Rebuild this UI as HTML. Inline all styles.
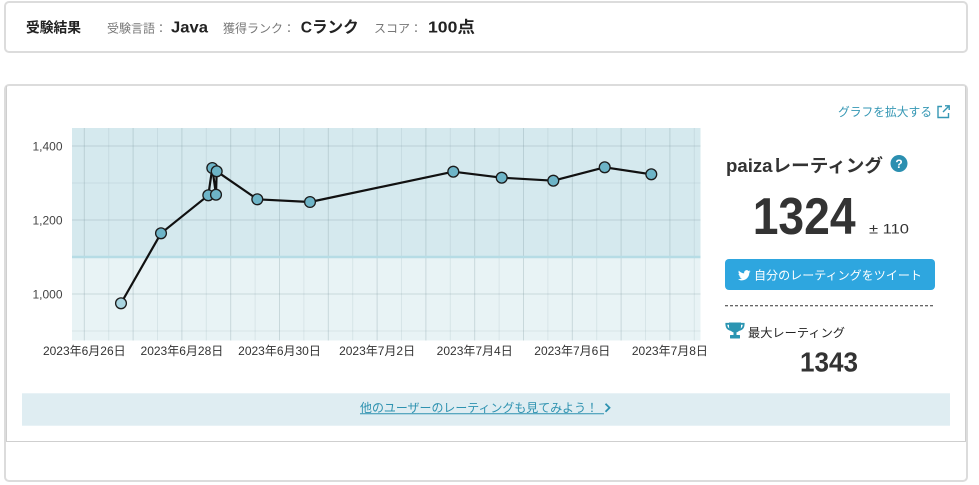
<!DOCTYPE html>
<html><head><meta charset="utf-8">
<style>
html,body{margin:0;padding:0;background:#fff;width:979px;height:485px;overflow:hidden;}
svg{display:block;}
text{font-family:"Liberation Sans","Noto Sans CJK JP",sans-serif;}
</style></head>
<body>
<svg width="979" height="485" viewBox="0 0 979 485" xmlns="http://www.w3.org/2000/svg">
  <!-- top card -->
  <rect x="5" y="2" width="962" height="50" rx="4" fill="#fff" stroke="#dcdcdc" stroke-width="2"/>
  <text x="26" y="32.5" font-size="14" font-weight="bold" fill="#222" textLength="55" lengthAdjust="spacingAndGlyphs">受験結果</text>
  <text x="107" y="32.5" font-size="12" fill="#777">受験言語：</text>
  <text x="171" y="32.5" font-size="16" font-weight="bold" fill="#222" textLength="37" lengthAdjust="spacingAndGlyphs">Java</text>
  <text x="223" y="32.5" font-size="12" fill="#777">獲得ランク：</text>
  <text x="300.7" y="32.5" font-size="16" font-weight="bold" fill="#222" textLength="58" lengthAdjust="spacingAndGlyphs">Cランク</text>
  <text x="374" y="32.5" font-size="12" fill="#777">スコア：</text>
  <text x="428" y="32.5" font-size="16" font-weight="bold" fill="#222" textLength="47" lengthAdjust="spacingAndGlyphs">100点</text>

  <!-- second card -->
  <rect x="5" y="85" width="962" height="396" rx="4" fill="#fff" stroke="#dcdcdc" stroke-width="2"/>
  <path d="M6.5,86 V441.5 H965.5 V86" fill="none" stroke="#cfcfcf" stroke-width="1"/>

  <!-- plot bands -->
  <rect x="72" y="128" width="628.5" height="129" fill="#d5e9ee"/>
  <rect x="72" y="257" width="628.5" height="83.5" fill="#e8f3f5"/>

  <!-- minor vertical grid -->
  <g stroke="rgba(100,130,140,0.12)" stroke-width="1">
    <line x1="108.7" y1="128" x2="108.7" y2="340.5"/>
    <line x1="157.5" y1="128" x2="157.5" y2="340.5"/>
    <line x1="206.3" y1="128" x2="206.3" y2="340.5"/>
    <line x1="255.1" y1="128" x2="255.1" y2="340.5"/>
    <line x1="303.9" y1="128" x2="303.9" y2="340.5"/>
    <line x1="352.7" y1="128" x2="352.7" y2="340.5"/>
    <line x1="401.5" y1="128" x2="401.5" y2="340.5"/>
    <line x1="450.3" y1="128" x2="450.3" y2="340.5"/>
    <line x1="499.1" y1="128" x2="499.1" y2="340.5"/>
    <line x1="547.9" y1="128" x2="547.9" y2="340.5"/>
    <line x1="596.7" y1="128" x2="596.7" y2="340.5"/>
    <line x1="645.5" y1="128" x2="645.5" y2="340.5"/>
    <line x1="694.3" y1="128" x2="694.3" y2="340.5"/>
    <line x1="72" y1="183" x2="700.5" y2="183"/>
    <line x1="72" y1="331" x2="700.5" y2="331"/>
  </g>
  <!-- major grid -->
  <g stroke="rgba(100,130,140,0.24)" stroke-width="1">
    <line x1="84.3" y1="128" x2="84.3" y2="340.5"/>
    <line x1="133.1" y1="128" x2="133.1" y2="340.5"/>
    <line x1="181.9" y1="128" x2="181.9" y2="340.5"/>
    <line x1="230.7" y1="128" x2="230.7" y2="340.5"/>
    <line x1="279.5" y1="128" x2="279.5" y2="340.5"/>
    <line x1="328.3" y1="128" x2="328.3" y2="340.5"/>
    <line x1="377.1" y1="128" x2="377.1" y2="340.5"/>
    <line x1="425.9" y1="128" x2="425.9" y2="340.5"/>
    <line x1="474.7" y1="128" x2="474.7" y2="340.5"/>
    <line x1="523.5" y1="128" x2="523.5" y2="340.5"/>
    <line x1="572.3" y1="128" x2="572.3" y2="340.5"/>
    <line x1="621.1" y1="128" x2="621.1" y2="340.5"/>
    <line x1="669.9" y1="128" x2="669.9" y2="340.5"/>
    <line x1="72" y1="146" x2="700.5" y2="146"/>
    <line x1="72" y1="220" x2="700.5" y2="220"/>
    <line x1="72" y1="294" x2="700.5" y2="294"/>
  </g>
  <!-- band line -->
  <line x1="72" y1="257" x2="700.5" y2="257" stroke="#b6dce5" stroke-width="2.5"/>

  <!-- y labels -->
  <g font-size="12" fill="#444" text-anchor="end">
    <text x="62.5" y="150.5">1,400</text>
    <text x="62.5" y="224.5">1,200</text>
    <text x="62.5" y="298.5">1,000</text>
  </g>
  <!-- x labels -->
  <g font-size="12" fill="#333" text-anchor="middle">
    <text x="84.3" y="355">2023年6月26日</text>
    <text x="181.9" y="355">2023年6月28日</text>
    <text x="279.5" y="355">2023年6月30日</text>
    <text x="377.1" y="355">2023年7月2日</text>
    <text x="474.7" y="355">2023年7月4日</text>
    <text x="572.3" y="355">2023年7月6日</text>
    <text x="669.9" y="355">2023年7月8日</text>
  </g>

  <!-- series -->
  <polyline fill="none" stroke="#111" stroke-width="2.2" stroke-linejoin="round"
    points="121,303.3 161,233.3 208.3,195.3 212.3,168 216,194.7 216.7,171.3 257.3,199.3 310,202 453.3,171.7 501.7,177.7 553.3,180.7 604.7,167.3 651.3,174.3"/>
  <g stroke="#1b1b1b" stroke-width="1.3" fill="#6db4c7">
    <circle cx="121" cy="303.3" r="5.4" fill="#a9d5e0"/>
    <circle cx="161" cy="233.3" r="5.4"/>
    <circle cx="208.3" cy="195.3" r="5.4"/>
    <circle cx="212.3" cy="168" r="5.4"/>
    <circle cx="216" cy="194.7" r="5.4"/>
    <circle cx="216.7" cy="171.3" r="5.4"/>
    <circle cx="257.3" cy="199.3" r="5.4"/>
    <circle cx="310" cy="202" r="5.4"/>
    <circle cx="453.3" cy="171.7" r="5.4"/>
    <circle cx="501.7" cy="177.7" r="5.4"/>
    <circle cx="553.3" cy="180.7" r="5.4"/>
    <circle cx="604.7" cy="167.3" r="5.4"/>
    <circle cx="651.3" cy="174.3" r="5.4"/>
  </g>

  <!-- right panel -->
  <text x="838" y="116" font-size="12" fill="#3597b4" textLength="94" lengthAdjust="spacingAndGlyphs">グラフを拡大する</text>
  <g fill="none" stroke="#3597b4" stroke-width="1.4">
    <path d="M942,106.5 H938 V117.5 H948.5 V113"/>
    <path d="M943,112 L949,106"/>
    <path d="M945,105.8 H949.2 V110"/>
  </g>

  <text x="726" y="172" font-size="18" font-weight="bold" fill="#333" textLength="157" lengthAdjust="spacingAndGlyphs">paizaレーティング</text>
  <circle cx="899" cy="163.5" r="8.5" fill="#2b8fb0"/>
  <text x="899" y="168" font-size="12" font-weight="bold" fill="#fff" text-anchor="middle">?</text>

  <text x="752.7" y="234" font-size="52" font-weight="bold" fill="#333" textLength="103" lengthAdjust="spacingAndGlyphs">1324</text>
  <text x="869" y="233.5" font-size="14" fill="#333" textLength="40" lengthAdjust="spacingAndGlyphs">± 110</text>

  <rect x="725" y="259" width="210" height="31" rx="4" fill="#2ea6df"/>
  <g transform="translate(738,269) scale(0.0245)" fill="#fff">
    <path d="M459.37 151.716c.325 4.548.325 9.097.325 13.645 0 138.72-105.583 298.558-298.558 298.558-59.452 0-114.680-17.219-161.137-47.106 8.447.974 16.568 1.299 25.340 1.299 49.055 0 94.213-16.568 130.274-44.832-46.132-.975-84.792-31.188-98.112-72.772 6.498.974 12.995 1.624 19.818 1.624 9.421 0 18.843-1.300 27.614-3.573-48.081-9.747-84.143-51.980-84.143-102.985v-1.299c13.969 7.797 30.214 12.670 47.431 13.319-28.264-18.843-46.781-51.005-46.781-87.391 0-19.492 5.197-37.360 14.294-52.954 51.655 63.675 129.300 105.258 216.365 109.807-1.624-7.797-2.599-15.918-2.599-24.040 0-57.828 46.782-104.934 104.934-104.934 30.213 0 57.502 12.670 76.670 33.137 23.715-4.548 46.456-13.320 66.599-25.340-7.798 24.366-24.366 44.833-46.132 57.827 21.117-2.273 41.584-8.122 60.426-16.243-14.292 20.791-32.161 39.308-52.628 54.253z"/>
  </g>
  <text x="754" y="279.5" font-size="12" fill="#fff" textLength="168" lengthAdjust="spacingAndGlyphs">自分のレーティングをツイート</text>

  <line x1="725" y1="305.7" x2="935" y2="305.7" stroke="#333" stroke-width="1" stroke-dasharray="3,2"/>

  <!-- trophy -->
  <g fill="#2b95b2">
    <path d="M729,322.5 H741 V326.5 A6,6 0 0 1 729,326.5 Z"/>
    <rect x="733.5" y="331" width="3" height="4.5"/>
    <rect x="730" y="335" width="10" height="3.5" rx="0.5"/>
  </g>
  <g fill="none" stroke="#2b95b2" stroke-width="1.8">
    <path d="M729.5,323.8 H726.3 C726.3,327.5 728,329.5 731,330"/>
    <path d="M740.5,323.8 H743.7 C743.7,327.5 742,329.5 739,330"/>
  </g>
  <text x="748" y="337" font-size="12" fill="#222" textLength="97" lengthAdjust="spacingAndGlyphs">最大レーティング</text>
  <text x="800" y="371.7" font-size="28" font-weight="bold" fill="#333" textLength="58" lengthAdjust="spacingAndGlyphs">1343</text>

  <!-- bottom bar -->
  <rect x="22" y="393.3" width="928" height="32.4" fill="#dfedf2"/>
  <text x="360" y="412" font-size="12" fill="#2e92b0" textLength="238" lengthAdjust="spacingAndGlyphs">他のユーザーのレーティングも見てみよう！</text>
  <line x1="360" y1="413.8" x2="604" y2="413.8" stroke="#2e92b0" stroke-width="1"/>
  <path d="M605.5,403.8 L609.5,407.8 L605.5,411.8" fill="none" stroke="#2e92b0" stroke-width="1.8"/>
</svg>
</body></html>
